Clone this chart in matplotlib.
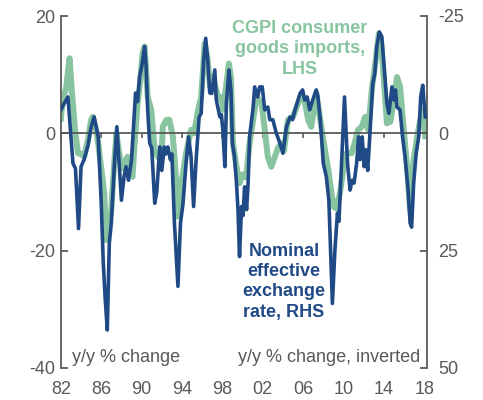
import matplotlib
matplotlib.use("Agg")
import matplotlib.pyplot as plt
from matplotlib.ticker import FixedLocator

plt.rcParams['font.family'] = ['Liberation Sans', 'DejaVu Sans']
plt.rcParams['axes.unicode_minus'] = False

# CGPI consumer goods imports, y/y % change (LHS)
cgpi_years = [1982.0, 1982.2, 1982.5, 1982.86, 1983.1, 1983.4, 1983.7, 1984.0, 1984.3, 1984.7,
              1985.0, 1985.15, 1985.5, 1985.7, 1986.0, 1986.3, 1986.5, 1986.7, 1987.0, 1987.25,
              1987.5, 1987.75, 1988.0, 1988.3, 1988.6, 1988.9, 1989.1, 1989.35, 1989.6, 1989.8,
              1990.1, 1990.3, 1990.6, 1990.95, 1991.3, 1991.6, 1991.95, 1992.1, 1992.45, 1992.75,
              1993.1, 1993.45, 1993.6, 1993.95, 1994.4, 1994.9, 1995.2, 1995.6, 1995.9, 1996.25,
              1996.5, 1996.8, 1997.1, 1997.3, 1997.6, 1997.9, 1998.1, 1998.4, 1998.65, 1998.85,
              1999.05, 1999.4, 1999.7, 2000.0, 2000.35, 2000.7, 2001.05, 2001.4, 2001.9, 2002.2,
              2002.5, 2002.85, 2003.2, 2003.5, 2003.85, 2004.1, 2004.5, 2005.0, 2005.5, 2005.85,
              2006.2, 2006.5, 2006.8, 2007.3, 2007.6, 2008.0, 2008.5, 2009.0, 2009.3, 2009.65,
              2010.0, 2010.3, 2010.8, 2011.1, 2011.45, 2011.8, 2012.15, 2012.45, 2012.8, 2013.15,
              2013.5, 2013.75, 2014.05, 2014.3, 2014.65, 2015.0, 2015.3, 2015.6, 2015.95, 2016.3,
              2016.6, 2016.95, 2017.3, 2017.6, 2017.95, 2018.1]
cgpi_values = [2.5, 6.0, 7.5, 12.8, 7.0, 0.6, -3.4, -3.5, -4.0, -1.0,
               2.3, 2.8, 0.5, -1.7, -6.0, -10.2, -18.2, -16.0, -13.0, -6.0,
               0.0, -3.0, -6.0, -5.0, -4.0, -7.0, -7.4, -0.6, 5.0, 7.9,
               13.7, 14.8, 6.2, 4.0, -2.8, -4.0, -4.5, 1.1, 2.3, 2.3,
               -0.6, -8.5, -14.2, -8.5, -3.4, 0.6, 0.0, 4.0, 6.2, 15.3,
               13.0, 7.9, 9.6, 8.0, 6.0, 6.2, 4.0, 8.5, 11.9, 9.5,
               -1.7, -5.7, -8.5, -7.0, -7.5, -1.7, 2.3, 6.2, 5.0, 0.6,
               -4.0, -5.7, -4.0, -2.5, -1.7, -3.0, 2.3, 2.8, 5.1, 6.8,
               5.1, 2.3, 1.1, 6.8, 3.4, -1.1, -6.3, -12.5, -12.8, -10.2,
               -6.0, -3.4, -3.4, -1.7, 0.6, 1.1, 2.8, 0.6, 7.4, 11.9,
               17.0, 15.0, 7.9, 1.7, 2.0, 5.7, 9.6, 8.0, 1.1, -5.7,
               -13.1, -4.5, -0.6, 2.3, 4.0, -0.5]

# Nominal effective exchange rate, y/y % change (RHS, inverted)
neer_years = [1982.0, 1982.3, 1982.7, 1983.0, 1983.2, 1983.45, 1983.75, 1984.0, 1984.3, 1984.7,
              1985.0, 1985.3, 1985.7, 1986.0, 1986.2, 1986.4, 1986.6, 1986.8, 1987.0, 1987.3,
              1987.55, 1987.8, 1988.0, 1988.25, 1988.45, 1988.7, 1989.0, 1989.2, 1989.4, 1989.6,
              1989.8, 1990.0, 1990.3, 1990.45, 1990.6, 1990.8, 1991.0, 1991.3, 1991.5, 1991.8,
              1992.0, 1992.25, 1992.4, 1992.6, 1992.85, 1993.0, 1993.25, 1993.6, 1993.85, 1994.1,
              1994.4, 1994.65, 1994.9, 1995.15, 1995.4, 1995.7, 1995.9, 1996.15, 1996.35, 1996.55,
              1996.75, 1996.95, 1997.25, 1997.4, 1997.75, 1997.9, 1998.05, 1998.25, 1998.4, 1998.65,
              1998.85, 1999.0, 1999.2, 1999.4, 1999.55, 1999.7, 1999.9, 2000.05, 2000.2, 2000.4,
              2000.55, 2000.7, 2001.05, 2001.2, 2001.5, 2001.7, 2001.95, 2002.2, 2002.5, 2002.7,
              2003.0, 2003.35, 2003.7, 2004.0, 2004.35, 2004.7, 2004.95, 2005.2, 2005.7, 2005.95,
              2006.15, 2006.4, 2006.65, 2006.95, 2007.3, 2007.45, 2007.7, 2008.0, 2008.3, 2008.55,
              2008.7, 2008.9, 2009.15, 2009.4, 2009.55, 2009.75, 2009.9, 2010.1, 2010.25, 2010.4,
              2010.65, 2010.85, 2011.05, 2011.3, 2011.5, 2011.65, 2011.85, 2012.05, 2012.2, 2012.4,
              2012.6, 2012.9, 2013.1, 2013.3, 2013.55, 2013.8, 2014.05, 2014.3, 2014.5, 2014.8,
              2015.0, 2015.15, 2015.3, 2015.6, 2015.85, 2016.1, 2016.4, 2016.6, 2016.75, 2016.95,
              2017.2, 2017.45, 2017.65, 2017.85, 2018.1]
neer_values = [-5.0, -6.25, -7.75, 0.75, 6.4, 7.5, 20.3, 7.1, 5.6, 2.5,
               -1.4, -3.5, 0.75, 14.9, 27.5, 35.5, 41.9, 23.4, 19.1, 6.75,
               -1.4, 7.1, 14.25, 9.4, 7.1, 10.0, 5.6, -1.4, -8.6, -6.75,
               -12.0, -14.1, -18.5, -14.1, -5.0, 2.1, 3.1, 14.9, 12.5, 2.9,
               7.9, 2.9, 4.4, 2.9, 5.6, 4.4, 19.1, 32.6, 19.1, 15.0,
               6.4, 0.75, 5.0, 15.6, 5.6, -3.5, -4.25, -15.6, -20.25, -15.6,
               -8.6, -8.5, -13.5, -7.1, -3.5, -4.0, -0.75, 7.1, -6.4, -13.5,
               -9.25, 2.1, 5.0, 10.6, 16.4, 26.25, 15.6, 17.5, 11.4, 16.25,
               10.6, 0.75, -5.6, -9.9, -7.75, -9.9, -9.9, -5.0, -5.6, -2.9,
               -2.9, 0.0, 2.1, 4.25, -1.4, -3.5, -2.9, -5.0, -8.5, -9.25,
               -7.1, -7.75, -5.0, -7.1, -9.25, -8.1, -2.9, 6.4, 9.25, 14.25,
               23.4, 36.25, 24.9, 17.0, 18.75, 9.25, 2.1, -7.75, -0.75, 6.4,
               12.1, 10.0, 10.6, 6.4, 0.75, 5.6, 0.75, 7.1, 3.5, 7.9,
               0.75, -10.6, -12.75, -18.5, -21.6, -20.6, -13.5, -6.4, -4.25, -9.9,
               -7.1, -9.25, -5.6, -5.0, 0.75, 5.0, 12.1, 19.1, 20.0, 10.6,
               4.25, 0.75, -7.75, -10.25, -3.5]

x_ticks = [1982, 1986, 1990, 1994, 1998, 2002, 2006, 2010, 2014, 2018]
x_labels = ['82', '86', '90', '94', '98', '02', '06', '10', '14', '18']
left_ticks = [20, 0, -20, -40]
right_ticks = [-25, 0, 25, 50]

GREEN = '#88c49f'
BLUE = '#1f4a86'
GREY = '#595959'

fig = plt.figure(figsize=(4.83, 4.0), dpi=100)
ax = fig.add_axes([0.126, 0.08, 0.758, 0.88])
ax.plot(cgpi_years, cgpi_values, color=GREEN, lw=4.3, solid_joinstyle='round', zorder=2)
ax.set_xlim(1982.0, 2018.27)
ax.set_ylim(-40, 20)

ax.spines['top'].set_visible(False)
ax.spines['right'].set_visible(False)
ax.spines['bottom'].set_position(('data', 0))
for s in ['left', 'bottom']:
    ax.spines[s].set_color(GREY)
    ax.spines[s].set_linewidth(1.3)

ax.xaxis.set_major_locator(FixedLocator(x_ticks))
ax.tick_params(axis='x', direction='out', length=3.5, width=1.2, color=GREY, labelbottom=False)
ax.set_yticks(left_ticks)
ax.tick_params(axis='y', direction='in', length=5, width=1.3, color=GREY, labelcolor=GREY,
               labelsize=13, pad=4)

sec = ax.secondary_xaxis('bottom')
sec.set_xticks(x_ticks)
sec.set_xticklabels(x_labels)
sec.spines['bottom'].set_visible(False)
sec.tick_params(axis='x', length=0, labelsize=13, labelcolor=GREY, pad=9)

ax2 = ax.twinx()
ax2.plot(neer_years, neer_values, color=BLUE, lw=2.6, solid_joinstyle='round', zorder=3)
ax2.set_ylim(50, -25)
ax2.set_yticks(right_ticks)
for s in ['top', 'bottom', 'left']:
    ax2.spines[s].set_visible(False)
ax2.spines['right'].set_color(GREY)
ax2.spines['right'].set_linewidth(1.3)
ax2.tick_params(axis='y', direction='in', length=5, width=1.3, color=GREY, labelcolor=GREY,
                labelsize=13, pad=8)

ax.text(2005.7, 14.4, 'CGPI consumer\ngoods imports,\nLHS', color=GREEN, fontsize=13,
        fontweight='bold', ha='center', va='center', linespacing=1.25, zorder=5)
ax.text(2004.1, -25.3, 'Nominal\neffective\nexchange\nrate, RHS', color=BLUE, fontsize=13,
        fontweight='bold', ha='center', va='center', linespacing=1.25, zorder=5)
ax.text(1983.1, -39.0, 'y/y % change', color=GREY, fontsize=13, ha='left', va='baseline')
ax.text(2017.6, -39.0, 'y/y % change, inverted', color=GREY, fontsize=13, ha='right', va='baseline')

fig.savefig('out.png', dpi=100)
